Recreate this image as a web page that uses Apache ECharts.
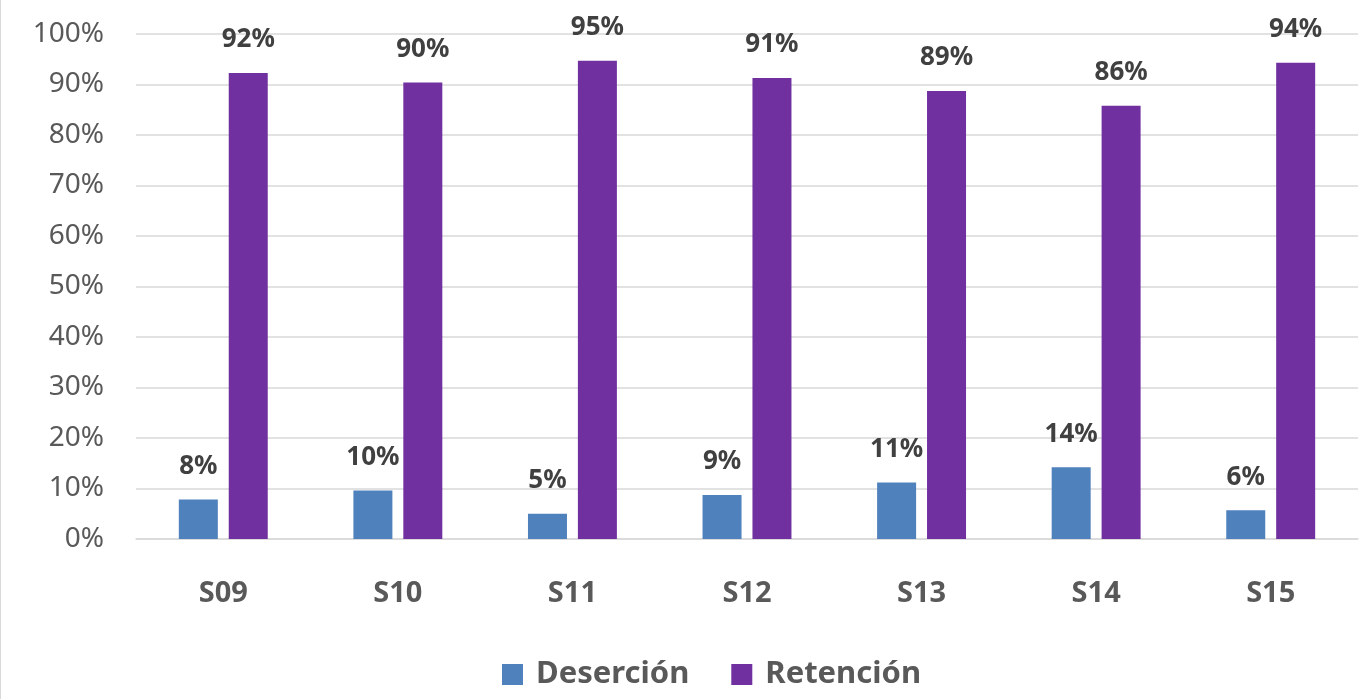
<!DOCTYPE html>
<html>
<head>
<meta charset="utf-8">
<script src="https://cdn.jsdelivr.net/npm/echarts@6/dist/echarts.min.js"></script>
<style>
  html, body { margin: 0; padding: 0; background: #fff; }
  #chart { width: 1371px; height: 699px; box-sizing: border-box; border-left: 1px solid #d9d9d9; }
</style>
</head>
<body>
<div id="chart"></div>
<script>
// categorias y valores (porcentaje)
var semestres = ['S09', 'S10', 'S11', 'S12', 'S13', 'S14', 'S15'];
var desercion = [7.8, 9.6, 5.0, 8.7, 11.2, 14.2, 5.7];
var retencion = [92.3, 90.4, 94.7, 91.3, 88.7, 85.8, 94.3];

var fuente = '"Noto Sans", "Open Sans", sans-serif';

var chart = echarts.init(document.getElementById('chart'));

function etiqueta() {
  return {
    show: true,
    position: 'top',
    distance: 20,
    fontFamily: fuente,
    fontSize: 26,
    fontWeight: 'bold',
    color: '#404040',
    formatter: function (p) { return Math.round(p.value) + '%'; }
  };
}

chart.setOption({
  animation: false,
  textStyle: { fontFamily: fuente },
  grid: { left: 135, right: 13, top: 34, bottom: 160 },
  legend: {
    bottom: 4,
    left: 496,
    itemWidth: 21,
    itemHeight: 21,
    itemGap: 42,
    icon: 'rect',
    textStyle: { fontFamily: fuente, fontSize: 31, fontWeight: 'bold', color: '#595959', padding: [0, 0, 0, 8] },
    data: ['Deserción', 'Retención']
  },
  xAxis: {
    type: 'category',
    data: semestres,
    axisLine: { lineStyle: { color: '#d9d9d9', width: 1.5 } },
    axisTick: { show: false },
    axisLabel: { fontFamily: fuente, fontSize: 29, fontWeight: 'bold', color: '#595959', margin: 40 }
  },
  yAxis: {
    type: 'value',
    min: 0,
    max: 100,
    interval: 10,
    axisLine: { show: false },
    axisTick: { show: false },
    axisLabel: { formatter: '{value}%', fontFamily: fuente, fontSize: 28, color: '#595959', margin: 32 },
    splitLine: { lineStyle: { color: '#d9d9d9', width: 1.5 } }
  },
  series: [
    {
      name: 'Deserción',
      type: 'bar',
      data: desercion,
      barWidth: 39,
      barGap: '28%',
      itemStyle: { color: '#4f81bd' },
      label: etiqueta()
    },
    {
      name: 'Retención',
      type: 'bar',
      data: retencion,
      barWidth: 39,
      itemStyle: { color: '#7030a0' },
      label: etiqueta()
    }
  ]
});
</script>
</body>
</html>
